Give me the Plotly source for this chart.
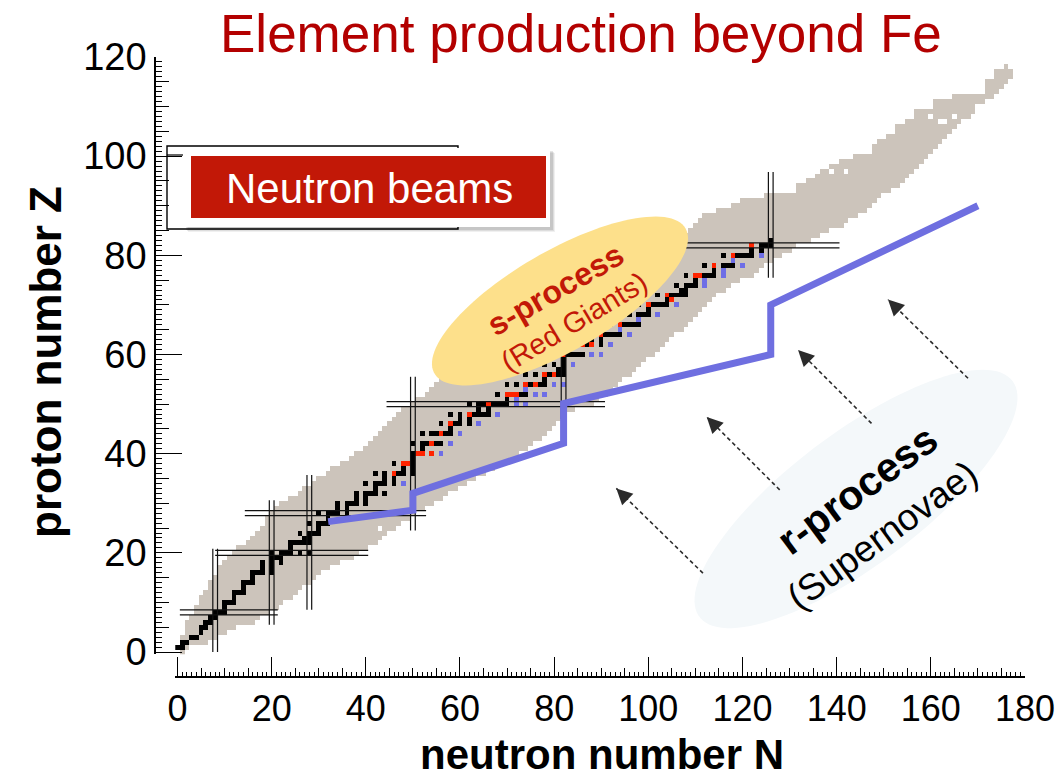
import numpy as np
import plotly.graph_objects as go

W, H = 1062, 780

# ---------------- data ----------------
# known nuclides: for each proton number Z the lightest and heaviest neutron number N
row_z = list(range(0, 119))
row_n_min = [1, 0, 1, 1, 2, 2, 2, 3, 4, 4, 5, 5, 6, 7, 7, 8, 9, 9, 10, 11,
             12, 13, 15, 16, 17, 18, 19, 19, 20, 21, 22, 24, 26, 27, 29, 30, 32, 33, 35, 37,
             38, 40, 41, 42, 43, 44, 45, 46, 47, 48, 50, 51, 53, 54, 55, 56, 57, 59, 60, 62,
             63, 65, 66, 68, 70, 71, 73, 75, 77, 78, 80, 82, 84, 86, 88, 90, 92, 94, 96, 98,
             100, 102, 104, 106, 107, 109, 110, 111, 112, 115, 118, 120, 125, 132, 132, 134, 136, 137, 139, 141,
             144, 148, 148, 149, 151, 153, 153, 155, 157, 157, 161, 161, 165, 172, 172, 172, 174, 174, 176]
row_n_max = [1, 2, 6, 8, 10, 12, 16, 17, 19, 21, 22, 24, 25, 26, 28, 29, 31, 32, 34, 37,
             38, 40, 42, 43, 44, 46, 47, 49, 50, 52, 54, 56, 57, 59, 61, 63, 65, 67, 69, 71,
             72, 74, 75, 77, 78, 79, 80, 81, 82, 84, 88, 89, 91, 92, 93, 94, 96, 97, 98, 99,
             101, 102, 103, 104, 105, 107, 108, 109, 110, 111, 112, 113, 114, 116, 117, 119, 122, 123, 124, 126,
             128, 130, 131, 134, 136, 138, 141, 142, 144, 146, 147, 148, 149, 151, 153, 154, 155, 156, 157, 158,
             159, 160, 161, 162, 163, 164, 165, 166, 168, 169, 170, 171, 173, 174, 175, 176, 177, 177, 176]
# unobserved nuclides inside the known region
hole_n = [31, 43, 139, 142, 160, 162, 163, 165, 170, 170]
hole_z = [16, 25, 97, 97, 108, 107, 107, 108, 109, 110]

# stable nuclides, neutron numbers per element
stable_z = [1, 2, 3, 4, 5, 6, 7, 8, 9, 10, 11, 12, 13, 14, 15, 16, 17, 18, 19, 20,
            21, 22, 23, 24, 25, 26, 27, 28, 29, 30, 31, 32, 33, 34, 35, 36, 37, 38, 39, 40,
            41, 42, 44, 45, 46, 47, 48, 49, 50, 51, 52, 53, 54, 55, 56, 57, 58, 59, 60, 62,
            63, 64, 65, 66, 67, 68, 69, 70, 71, 72, 73, 74, 75, 76, 77, 78, 79, 80, 81, 82, 83]
stable_n = [[0, 1], [1, 2], [3, 4], [5], [5, 6], [6, 7], [7, 8], [8, 9, 10], [10], [10, 11, 12],
            [12], [12, 13, 14], [14], [14, 15, 16], [16], [16, 17, 18, 20], [18, 20], [18, 20, 22],
            [20, 21, 22], [20, 22, 23, 24, 26, 28],
            [24], [24, 25, 26, 27, 28], [27, 28], [26, 28, 29, 30], [30], [28, 30, 31, 32], [32],
            [30, 32, 33, 34, 36], [34, 36], [34, 36, 37, 38, 40], [38, 40], [38, 40, 41, 42, 44],
            [42], [40, 42, 43, 44, 46, 48], [44, 46], [42, 44, 46, 47, 48, 50], [48, 50],
            [46, 48, 49, 50], [50], [50, 51, 52, 54, 56],
            [52], [50, 52, 53, 54, 55, 56, 58], [52, 54, 55, 56, 57, 58, 60], [58],
            [56, 58, 59, 60, 62, 64], [60, 62], [58, 60, 62, 63, 64, 65, 66, 68], [64, 66],
            [62, 64, 65, 66, 67, 68, 69, 70, 72, 74], [70, 72], [68, 70, 71, 72, 73, 74, 76, 78],
            [74], [70, 72, 74, 75, 76, 77, 78, 80, 82], [78], [74, 76, 78, 79, 80, 81, 82],
            [81, 82], [78, 80, 82, 84], [82], [82, 83, 84, 85, 86, 88, 90],
            [82, 85, 86, 87, 88, 90, 92],
            [88, 90], [88, 90, 91, 92, 93, 94, 96], [94], [90, 92, 94, 95, 96, 97, 98], [98],
            [94, 96, 98, 99, 100, 102], [100], [98, 100, 101, 102, 103, 104, 106], [104, 105],
            [102, 104, 105, 106, 107, 108], [107, 108], [106, 108, 109, 110, 112], [110, 112],
            [108, 110, 111, 112, 113, 114, 116], [114, 116], [112, 114, 116, 117, 118, 120], [118],
            [116, 118, 119, 120, 121, 122, 124], [122, 124], [122, 124, 125, 126], [126]]

# s-process dominated nuclides (red) and r-process dominated nuclides (blue)
s_n = [46, 48, 49, 51, 52, 54, 54, 56, 58, 62, 66, 70, 71, 72, 74, 76, 78, 80, 82, 86,
       88, 90, 94, 100, 105, 104, 110, 111, 114, 118, 122]
s_z = [36, 38, 38, 40, 40, 40, 42, 44, 46, 48, 50, 52, 52, 52, 54, 54, 56, 56, 60, 62,
       62, 64, 66, 70, 71, 72, 76, 76, 78, 80, 82]
r_n = [48, 56, 58, 60, 64, 68, 72, 74, 72, 74, 76, 78, 80, 82, 84, 88, 90, 92, 94, 96,
       98, 102, 106, 112, 112, 116, 116, 120, 118, 124]
r_z = [34, 40, 42, 44, 46, 48, 50, 50, 51, 53, 52, 52, 54, 54, 58, 60, 60, 62, 65, 64,
       67, 68, 70, 74, 75, 76, 77, 78, 79, 80]

# magic numbers: closed-shell lines (N lines span in Z, Z lines span in N)
magic_n = [8, 20, 28, 50, 82, 126]
magic_n_zlo = [0.0, 5.5, 8.5, 24.5, 47.0, 75.5]
magic_n_zhi = [20.8, 30.6, 35.7, 55.5, 61.5, 96.8]
magic_z = [8, 20, 28, 50, 82]
magic_z_nlo = [0.5, 8.0, 14.3, 44.4, 107.3]
magic_z_nhi = [21.3, 40.5, 52.8, 90.8, 140.6]

# r-process path
rpath_n = [32, 50, 50, 82, 82, 126, 126, 170]
rpath_z = [26.3, 28.6, 32.0, 42.1, 50.1, 60.0, 70.0, 90.0]

# r-process flow arrows (tail -> tip)
arrow_tail_n = [111.6, 127.9, 147.4, 167.9]
arrow_tail_z = [15.9, 32.7, 46.1, 55.2]
arrow_tip_n = [93.2, 112.4, 131.8, 150.9]
arrow_tip_z = [33.0, 47.4, 60.9, 71.1]

x_ticks = list(range(0, 181, 20))
y_ticks = list(range(0, 121, 20))

# ---------------- colours ----------------
C_KNOWN = "#ccc4bb"
C_STABLE = "#000000"
C_S = "#ff2400"
C_R = "#6e6ee6"
C_PATH = "#6f6fe0"
C_TITLE = "#b30000"
C_SBOX = "#c21807"

# ---------------- grid of cells ----------------
NX, NY = 181, 121
grid = np.full((NY, NX), np.nan)
for z, lo, hi in zip(row_z, row_n_min, row_n_max):
    grid[z, lo:hi + 1] = 1
for n, z in zip(hole_n, hole_z):
    grid[z, n] = np.nan
for z, ns in zip(stable_z, stable_n):
    for n in ns:
        grid[z, n] = 2
for n, z in zip(s_n, s_z):
    grid[z, n] = 3
for n, z in zip(r_n, r_z):
    grid[z, n] = 4

colorscale = [[0, C_KNOWN], [1 / 6, C_KNOWN], [1 / 6, C_STABLE], [0.5, C_STABLE],
              [0.5, C_S], [5 / 6, C_S], [5 / 6, C_R], [1, C_R]]

fig = go.Figure()
fig.add_trace(go.Heatmap(
    z=grid, x=list(range(NX)), y=list(range(NY)),
    zmin=1, zmax=4, colorscale=colorscale, showscale=False, hoverinfo="skip",
))

# closed-shell double lines
lx, ly = [], []
for m, lo, hi in zip(magic_n, magic_n_zlo, magic_n_zhi):
    for off in (-0.5, 0.5):
        lx += [m + off, m + off, None]
        ly += [lo, hi, None]
for m, lo, hi in zip(magic_z, magic_z_nlo, magic_z_nhi):
    for off in (-0.5, 0.5):
        lx += [lo, hi, None]
        ly += [m + off, m + off, None]
fig.add_trace(go.Scatter(x=lx, y=ly, mode="lines", line=dict(color="#111111", width=1.2),
                         hoverinfo="skip", showlegend=False))

# r-process path
fig.add_trace(go.Scatter(x=rpath_n, y=rpath_z, mode="lines",
                         line=dict(color=C_PATH, width=7), hoverinfo="skip", showlegend=False))

# carriers for the medium-tick overlay axes
fig.add_trace(go.Scatter(x=[None], y=[None], xaxis="x2", yaxis="y", showlegend=False))
fig.add_trace(go.Scatter(x=[None], y=[None], xaxis="x", yaxis="y2", showlegend=False))

# ---------------- axes geometry (pixels) ----------------
X0_PX, X180_PX = 177.5, 1025.0
Y0_PX, Y120_PX = 652.0, 57.0
sx = (X180_PX - X0_PX) / 180.0
sy = (Y0_PX - Y120_PX) / 120.0
x_rng = [-0.5, 180]
y_rng = [-0.5, 120]
x_dom = [(X0_PX + x_rng[0] * sx) / W, X180_PX / W]
y_dom = [1 - (Y0_PX - y_rng[0] * sy) / H, 1 - Y120_PX / H]
XAXIS_PY = 677.0
YAXIS_PX = 155.0

tick_font_x = dict(family="Liberation Sans, Arial, Helvetica", size=36, color="black")
tick_font_y = dict(family="Liberation Sans, Arial, Helvetica", size=38, color="black")

fig.update_layout(
    width=W, height=H,
    margin=dict(l=0, r=0, t=0, b=0, pad=0, autoexpand=False),
    paper_bgcolor="white", plot_bgcolor="rgba(0,0,0,0)",
    showlegend=False,
    font=dict(family="Liberation Sans, Arial, Helvetica", color="black"),
    xaxis=dict(
        range=x_rng, domain=x_dom, anchor="free", position=1 - XAXIS_PY / H, automargin=False,
        showgrid=False, zeroline=False, showline=True, linecolor="black", linewidth=1.5,
        ticks="inside", tickmode="array", tickvals=x_ticks, ticktext=[str(v) for v in x_ticks],
        ticklen=19, tickwidth=1.3, tickcolor="black", tickfont=tick_font_x,
        minor=dict(tick0=0, dtick=1, ticklen=4.5, tickwidth=1, tickcolor="black", ticks="inside"),
    ),
    xaxis2=dict(
        range=x_rng, overlaying="x", anchor="free", position=1 - XAXIS_PY / H, automargin=False,
        showgrid=False, zeroline=False, showline=False, showticklabels=False,
        ticks="inside", tick0=0, dtick=5, ticklen=9, tickwidth=1, tickcolor="black",
    ),
    yaxis=dict(
        range=y_rng, domain=y_dom, anchor="free", position=YAXIS_PX / W, automargin=False,
        showgrid=False, zeroline=False, showline=True, linecolor="black", linewidth=1.5,
        ticks="inside", tickmode="array", tickvals=y_ticks, ticktext=[str(v) for v in y_ticks],
        ticklen=26, tickwidth=1.3, tickcolor="black", tickfont=tick_font_y,
        minor=dict(tick0=0, dtick=1, ticklen=6, tickwidth=1, tickcolor="black", ticks="inside"),
    ),
    yaxis2=dict(
        range=y_rng, overlaying="y", anchor="free", position=YAXIS_PX / W, automargin=False,
        showgrid=False, zeroline=False, showline=False, showticklabels=False,
        ticks="inside", tick0=0, dtick=5, ticklen=12.5, tickwidth=1, tickcolor="black",
    ),
)


def px(x, y):
    return x / W, 1 - y / H


def ellipse_path(cx, cy, a, b, deg, n=120):
    t = np.linspace(0, 2 * np.pi, n)
    th = np.radians(deg)
    xs = cx + a * np.cos(th) * np.cos(t) - b * np.sin(th) * np.sin(t)
    ys = cy - (a * np.sin(th) * np.cos(t) + b * np.cos(th) * np.sin(t))
    pts = [px(x, y) for x, y in zip(xs, ys)]
    return "M " + " L ".join(f"{u:.5f},{v:.5f}" for u, v in pts) + " Z"


shapes = []
# s-process and r-process ellipses
shapes.append(dict(type="path", xref="paper", yref="paper", layer="above",
                   path=ellipse_path(560, 301, 145, 50, 30),
                   fillcolor="#fde08b", line=dict(width=0)))
shapes.append(dict(type="path", xref="paper", yref="paper", layer="above",
                   path=ellipse_path(856, 499, 196, 66, 37),
                   fillcolor="#f4f8fa", line=dict(width=0)))

# outline frame behind the neutron-beam label
fx0, fy0 = px(167, 146)
fx1, fy1 = px(458, 229)
shapes.append(dict(type="rect", xref="paper", yref="paper", layer="above",
                   x0=fx0, y0=fy1, x1=fx1, y1=fy0, line=dict(color="black", width=1.4)))
lx0, ly0 = px(167, 155)
lx1, _ = px(190, 155)
shapes.append(dict(type="line", xref="paper", yref="paper", layer="above",
                   x0=lx0, y0=ly0, x1=lx1, y1=ly0, line=dict(color="black", width=1.2)))
# neutron-beam label: soft shadow, white card, red box
for off, alpha in ((5, 0.06), (4, 0.08), (3, 0.10)):
    sx0, sy0 = px(183 + off, 148 + off)
    sx1, sy1 = px(550 + off, 227 + off)
    shapes.append(dict(type="rect", xref="paper", yref="paper", layer="above",
                       x0=sx0, y0=sy1, x1=sx1, y1=sy0,
                       fillcolor=f"rgba(0,0,0,{alpha})", line=dict(width=0)))
cx0, cy0 = px(183, 148)
cx1, cy1 = px(550, 227)
shapes.append(dict(type="rect", xref="paper", yref="paper", layer="above",
                   x0=cx0, y0=cy1, x1=cx1, y1=cy0, fillcolor="white", line=dict(width=0)))
rx0, ry0 = px(191, 156)
rx1, ry1 = px(546, 218)
shapes.append(dict(type="rect", xref="paper", yref="paper", layer="above",
                   x0=rx0, y0=ry1, x1=rx1, y1=ry0, fillcolor=C_SBOX, line=dict(width=0)))

# dashed flow arrows
for tn, tz, hn, hz in zip(arrow_tail_n, arrow_tail_z, arrow_tip_n, arrow_tip_z):
    shapes.append(dict(type="line", xref="x", yref="y", layer="above",
                       x0=tn, y0=tz, x1=hn, y1=hz,
                       line=dict(color="#2b2b2b", width=1.6, dash="4px,3px")))

fig.update_layout(shapes=shapes)

ann = []
tx, ty = px(581, 34)
ann.append(dict(x=tx, y=ty, xref="paper", yref="paper", text="Element production beyond Fe",
                showarrow=False, font=dict(size=53, color=C_TITLE), xanchor="center", yanchor="middle"))
tx, ty = px(602, 754)
ann.append(dict(x=tx, y=ty, xref="paper", yref="paper", text="<b>neutron number N</b>",
                showarrow=False, font=dict(size=42, color="black"), xanchor="center", yanchor="middle"))
tx, ty = px(45, 362)
ann.append(dict(x=tx, y=ty, xref="paper", yref="paper", text="<b>proton number Z</b>",
                showarrow=False, textangle=-90, font=dict(size=44, color="black"),
                xanchor="center", yanchor="middle"))
tx, ty = px(369, 188)
ann.append(dict(x=tx, y=ty, xref="paper", yref="paper", text="Neutron beams",
                showarrow=False, font=dict(size=42, color="white"), xanchor="center", yanchor="middle"))
tx, ty = px(555, 290)
ann.append(dict(x=tx, y=ty, xref="paper", yref="paper", text="<b>s-process</b>",
                showarrow=False, textangle=-30, font=dict(size=32, color=C_SBOX),
                xanchor="center", yanchor="middle"))
tx, ty = px(574, 322)
ann.append(dict(x=tx, y=ty, xref="paper", yref="paper", text="(Red Giants)",
                showarrow=False, textangle=-31, font=dict(size=29, color=C_SBOX),
                xanchor="center", yanchor="middle"))
tx, ty = px(857, 490)
ann.append(dict(x=tx, y=ty, xref="paper", yref="paper", text="<b>r-process</b>",
                showarrow=False, textangle=-36.5, font=dict(size=41, color="black"),
                xanchor="center", yanchor="middle"))
tx, ty = px(882, 535)
ann.append(dict(x=tx, y=ty, xref="paper", yref="paper", text="(Supernovae)",
                showarrow=False, textangle=-36, font=dict(size=37, color="black"),
                xanchor="center", yanchor="middle"))

# arrow heads at the tips of the dashed arrows
for tn, tz, hn, hz in zip(arrow_tail_n, arrow_tail_z, arrow_tip_n, arrow_tip_z):
    dxp = (tn - hn) * sx
    dyp = -(tz - hz) * sy
    L = np.hypot(dxp, dyp)
    ann.append(dict(x=hn, y=hz, xref="x", yref="y", text="", showarrow=True,
                    ax=dxp / L * 16, ay=dyp / L * 16, axref="pixel", ayref="pixel",
                    arrowhead=2, arrowsize=2.0, arrowwidth=1.6, arrowcolor="#2b2b2b", standoff=0))

fig.update_layout(annotations=ann)

fig.write_html("out.html")
